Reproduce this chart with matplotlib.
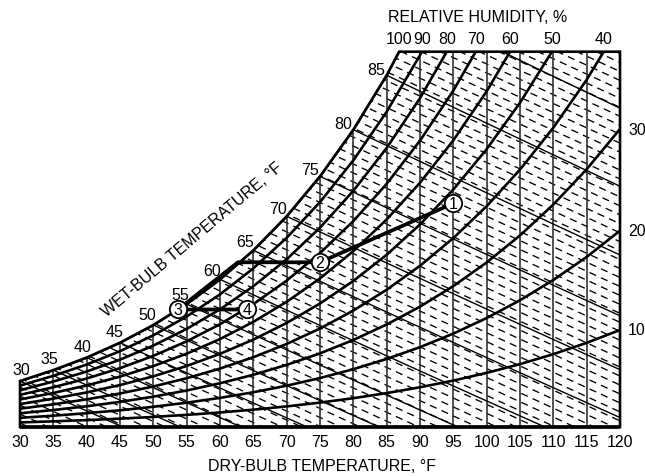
import numpy as np
import matplotlib
matplotlib.use("Agg")
import matplotlib.pyplot as plt
from matplotlib.patches import Polygon

plt.rcParams['font.family'] = ['Liberation Sans', 'DejaVu Sans']

### Chart data ###
# dry-bulb grid, degF
dry_bulb = [30, 35, 40, 45, 50, 55, 60, 65, 70, 75, 80, 85, 90, 95, 100, 105, 110, 115, 120]
# saturation vapour pressure at each dry-bulb, psia
sat_press = [0.0808, 0.0999, 0.1217, 0.1475, 0.1781, 0.2141, 0.2563, 0.3057, 0.3632, 0.4300,
             0.5073, 0.5964, 0.6988, 0.8162, 0.9503, 1.1030, 1.2763, 1.4725, 1.6945]
rh_levels = [10, 20, 30, 40, 50, 60, 70, 80, 90]
rh_top_labels = [40, 50, 60, 70, 80, 90, 100]
rh_side_labels = [10, 20, 30]
wet_bulb = [30, 35, 40, 45, 50, 55, 60, 65, 70, 75, 80, 85, 90]
wet_bulb_labels = [30, 35, 40, 45, 50, 55, 60, 65, 70, 75, 80, 85]

# process path 1 -> 2 -> dew point -> 3 -> 4
proc_T = [95, 75, 62.7, 53.7, 64.1]
proc_W = [0.01673, 0.01232, 0.01232, 0.00879, 0.00879]
proc_marks = [0, 1, 3, 4]
proc_names = ['1', '2', '3', '4']

P_ATM = 14.696
W_TOP = 0.02807
FS = 11.5


def hum_ratio(pv):
    pv = np.asarray(pv)
    return 0.622 * pv / (P_ATM - pv)


T = np.array(dry_bulb, dtype=float)
ps = np.array(sat_press)
w_sat = hum_ratio(ps)

fig = plt.figure(figsize=(6.45, 4.77), dpi=100)
ax = fig.add_axes([20 / 645, 1 - 428 / 477, 600 / 645, (428 - 52.7) / 477])
ax.set_xlim(30, 120)
ax.set_ylim(0, W_TOP)
for s in ax.spines.values():
    s.set_visible(False)
ax.set_yticks([])
ax.set_xticks(dry_bulb)
ax.set_xticklabels([str(t) for t in dry_bulb], fontsize=FS)
ax.tick_params(axis='x', length=0, pad=5)

# chart outline (below saturation, inside frame)
t_top = np.interp(W_TOP, w_sat, T)
outline = [(30, 0)] + [(t, w) for t, w in zip(T, w_sat) if w < W_TOP] \
    + [(t_top, W_TOP), (120, W_TOP), (120, 0)]
clip = Polygon(outline, closed=True, transform=ax.transData, fill=False)
ax.add_patch(clip)
clip.set_visible(False)

# dashed hatch parallel to wet-bulb lines
m = 2.29e-4
for c in np.arange(0.0003, W_TOP + m * 90, 6.7e-4):
    ln, = ax.plot([30, 120], [c, c - m * 90], color='black', lw=0.95,
                  dashes=(5.5, 4))
    ln.set_clip_path(clip)

# dry-bulb verticals
vl = ax.vlines(dry_bulb[1:-1], 0, W_TOP, color='#333333', lw=1.2)
vl.set_clip_path(clip)

# wet-bulb lines
for twb in wet_bulb:
    i = dry_bulb.index(twb)
    tt = T[i:]
    ww = ((1093 - 0.556 * twb) * w_sat[i] - 0.24 * (tt - twb)) / (1093 + 0.444 * tt - twb)
    ln, = ax.plot(tt, ww, color='black', lw=1.0)
    ln.set_clip_path(clip)

# relative humidity curves
rh_curves = {}
for rh in rh_levels + [100]:
    w = hum_ratio(ps * rh / 100.0)
    rh_curves[rh] = w
    ln, = ax.plot(T, w, color='black', lw=1.9)
    ln.set_clip_path(clip)

# frame
ax.add_patch(Polygon(outline, closed=True, fill=False, lw=1.9, edgecolor='black',
                     joinstyle='miter', zorder=4, clip_on=False))
ax.plot([30, 120], [0, 0], color='black', lw=2.6, zorder=4, clip_on=False,
        solid_capstyle='butt')

# RH labels
for rh in rh_top_labels:
    tx = np.interp(W_TOP, rh_curves[rh], T)
    ax.annotate(str(rh), (tx, W_TOP), xytext=(0, 13), textcoords='offset pixels',
                ha='center', va='center', fontsize=FS, annotation_clip=False)
for rh in rh_side_labels:
    ax.annotate(str(rh), (120, rh_curves[rh][-1]), xytext=(17, 0),
                textcoords='offset pixels', ha='center', va='center',
                fontsize=FS, annotation_clip=False)

# wet-bulb labels, set off normal to the saturation curve
pts = ax.transData.transform(np.column_stack([T, w_sat]))
for twb in wet_bulb_labels:
    i = dry_bulb.index(twb)
    a = pts[max(i - 1, 0)]
    b = pts[i + 1]
    tan = (b - a) / np.hypot(*(b - a))
    nrm = np.array([-tan[1], tan[0]]) * 12
    if i == 0:
        nrm = nrm + np.array([5, 0])
    ax.annotate(str(twb), (twb, w_sat[i]), xytext=tuple(nrm), textcoords='offset pixels',
                ha='center', va='center', fontsize=FS, annotation_clip=False)

# process path and state points
ax.plot(proc_T, proc_W, color='black', lw=2.7, zorder=5, clip_on=False)
mk_T = [proc_T[k] for k in proc_marks]
mk_W = [proc_W[k] for k in proc_marks]
ax.plot(mk_T, mk_W, 'o', ms=12.5, mfc='white', mec='black', mew=1.3, zorder=6, clip_on=False)
for t, w, name in zip(mk_T, mk_W, proc_names):
    ax.text(t, w, name, ha='center', va='center', fontsize=FS, zorder=7)

# axis titles
fig.text(322 / 645, 1 - 467 / 477, 'DRY-BULB TEMPERATURE, °F', ha='center', va='center',
         fontsize=FS)
fig.text(478 / 645, 1 - 18 / 477, 'RELATIVE HUMIDITY, %', ha='center', va='center',
         fontsize=FS)
fig.text(192 / 645, 1 - 240 / 477, 'WET-BULB TEMPERATURE, °F', ha='center', va='center',
         fontsize=FS, rotation=40, rotation_mode='anchor')

fig.savefig('out.png', dpi=100)
